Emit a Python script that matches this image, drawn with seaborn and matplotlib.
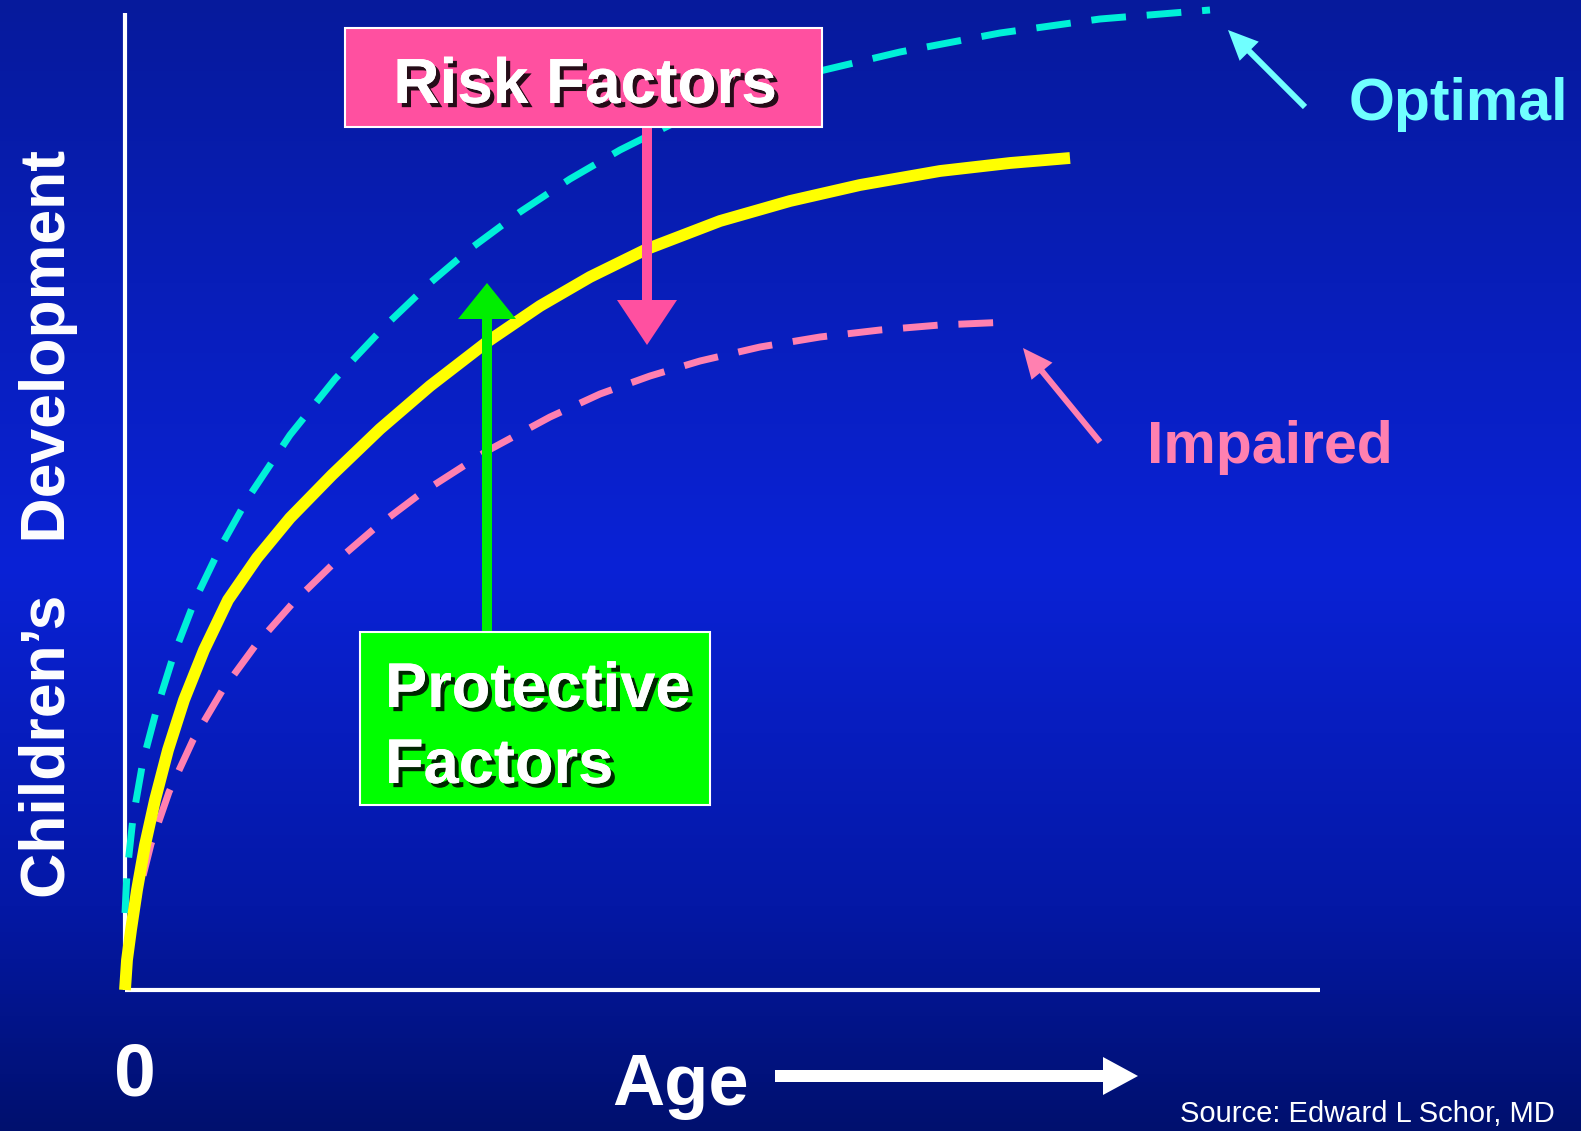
import numpy as np
import pandas as pd
import matplotlib
matplotlib.use("Agg")
import matplotlib.pyplot as plt
import matplotlib.patheffects as pe
from matplotlib.colors import LinearSegmentedColormap
from matplotlib.patches import Rectangle
import seaborn as sns

# -------------------------------
# Data (age vs. development)
# -------------------------------
typical_age = [0.0, 0.02, 0.06, 0.12, 0.2, 0.3, 0.43, 0.59, 0.79, 1.03, 1.32,
               1.65, 2.07, 2.55, 3.05, 3.62, 4.15, 4.65, 5.22, 5.95, 6.65,
               7.35, 8.15, 8.85, 9.45]
typical_dev = [0.0, 0.3, 0.6, 1.0, 1.45, 1.9, 2.4, 2.9, 3.4, 3.9, 4.32,
               4.72, 5.15, 5.61, 6.04, 6.48, 6.84, 7.13, 7.41, 7.69, 7.89,
               8.05, 8.19, 8.27, 8.32]

optimal_age = [0.0, 0.02, 0.08, 0.18, 0.32, 0.48, 0.7, 0.95, 1.23, 1.65, 2.1,
               2.6, 3.05, 3.45, 3.95, 4.45, 4.95, 5.45, 5.95, 6.45, 6.95, 7.75,
               8.75, 9.75, 10.85]
optimal_dev = [0.77, 1.17, 1.72, 2.29, 2.82, 3.33, 3.9, 4.42, 4.92, 5.55, 6.11,
               6.64, 7.07, 7.41, 7.78, 8.11, 8.4, 8.65, 8.86, 9.04, 9.19, 9.38,
               9.57, 9.71, 9.8]

impaired_age = [0.0, 0.03, 0.12, 0.26, 0.44, 0.68, 0.97, 1.3, 1.67, 2.07, 2.5,
                2.95, 3.62, 4.25, 4.75, 5.25, 5.75, 6.35, 6.95, 7.55, 8.15, 8.85]
impaired_dev = [0.05, 0.33, 0.9, 1.46, 1.98, 2.5, 2.99, 3.44, 3.86, 4.25, 4.62,
                4.96, 5.39, 5.73, 5.96, 6.14, 6.29, 6.43, 6.53, 6.6, 6.65, 6.68]

curve_colors = {"Typical": "#ffff00", "Optimal": "#00f0d8", "Impaired": "#ff80b0"}

df = pd.concat([
    pd.DataFrame({"Age": typical_age, "Development": typical_dev, "Curve": "Typical"}),
    pd.DataFrame({"Age": optimal_age, "Development": optimal_dev, "Curve": "Optimal"}),
    pd.DataFrame({"Age": impaired_age, "Development": impaired_dev, "Curve": "Impaired"}),
])

# -------------------------------
# Figure + gradient background
# -------------------------------
fig = plt.figure(figsize=(15.81, 11.31), dpi=100)
ax = fig.add_axes([0, 0, 1, 1])
xmin, xmax, ymin, ymax = -1.25, 14.56, -1.41, 9.90
ax.set_xlim(xmin, xmax)
ax.set_ylim(ymin, ymax)
ax.axis("off")

bg = LinearSegmentedColormap.from_list(
    "bg", [(0.0, "#00106e"), (0.2, "#0418a6"), (0.5, "#0a22d6"), (1.0, "#061a9c")])
grad = np.linspace(0, 1, 256).reshape(-1, 1)
ax.imshow(grad, extent=[xmin, xmax, ymin, ymax], origin="lower", aspect="auto",
          cmap=bg, zorder=0)

# axes lines
ax.plot([0, 0], [0, 9.77], color="white", lw=3, zorder=1, solid_capstyle="butt")
ax.plot([0, 11.95], [0, 0], color="white", lw=3, zorder=1, solid_capstyle="butt")

# -------------------------------
# Curves
# -------------------------------
for name in ["Optimal", "Impaired", "Typical"]:
    sub = df[df["Curve"] == name]
    sns.lineplot(data=sub, x="Age", y="Development", ax=ax, color=curve_colors[name],
                 lw=8.5 if name == "Typical" else 5, zorder=3, sort=False,
                 legend=False)
    line = ax.lines[-1]
    if name != "Typical":
        line.set_linestyle((0, (5, 3)))
    line.set_solid_capstyle("butt")
    line.set_dash_capstyle("butt")
    line.set_solid_joinstyle("round")
    line.set_dash_joinstyle("round")

ax.set_xlabel("")
ax.set_ylabel("")

# -------------------------------
# Boxes + arrows
# -------------------------------
shadow = [pe.withSimplePatchShadow(offset=(3, -3), shadow_rgbFace="black", alpha=0.85),
          pe.Normal()]
font = "Liberation Sans"

ax.add_patch(Rectangle((2.20, 8.63), 4.77, 0.99, facecolor="#ff50a0",
                       edgecolor="white", lw=1.5, zorder=5))
ax.text(4.60, 8.87, "Risk Factors", ha="center", va="baseline", fontsize=46,
        fontweight="bold", color="white", family=font,
        path_effects=shadow, zorder=6)
ax.arrow(5.22, 8.63, 0, -2.18, width=0.1, head_width=0.6, head_length=0.45,
         length_includes_head=True, color="#ff50a0", lw=0, zorder=4)

ax.add_patch(Rectangle((2.35, 1.85), 3.50, 1.73, facecolor="#00ff00",
                       edgecolor="white", lw=1.5, zorder=5))
ax.text(2.60, 2.83, "Protective", ha="left", va="baseline", fontsize=45.5,
        fontweight="bold", color="white", family=font,
        path_effects=shadow, zorder=6)
ax.text(2.60, 2.07, "Factors", ha="left", va="baseline", fontsize=45.5,
        fontweight="bold", color="white", family=font,
        path_effects=shadow, zorder=6)
ax.arrow(3.62, 3.58, 0, 3.49, width=0.1, head_width=0.58, head_length=0.36,
         length_includes_head=True, color="#00ee00", lw=0, zorder=4)

# curve labels
ax.arrow(11.80, 8.83, -0.77, 0.77, width=0.06, head_width=0.27, head_length=0.3,
         length_includes_head=True, color="#70ffff", lw=0, zorder=4)
ax.text(12.24, 8.70, "Optimal", ha="left", va="baseline", fontsize=42.5,
        fontweight="bold", color="#70ffff", family=font, zorder=6)

ax.arrow(9.75, 5.48, -0.77, 0.94, width=0.06, head_width=0.27, head_length=0.3,
         length_includes_head=True, color="#ff80b0", lw=0, zorder=4)
ax.text(10.22, 5.27, "Impaired", ha="left", va="baseline", fontsize=42.5,
        fontweight="bold", color="#ff80b0", family=font, zorder=6)

# axis titles
ax.text(-0.76, 4.66, "Children\u2019s   Development", rotation=90, ha="center",
        va="center", fontsize=45, fontweight="bold", color="white",
        family=font, zorder=6)
ax.text(0.10, -1.05, "0", ha="center", va="baseline", fontsize=54,
        fontweight="bold", color="white", family=font, zorder=6)
ax.text(4.87, -1.15, "Age", ha="left", va="baseline", fontsize=52,
        fontweight="bold", color="white", family=font, zorder=6)
ax.arrow(6.50, -0.86, 3.63, 0, width=0.12, head_width=0.38, head_length=0.35,
         length_includes_head=True, color="white", lw=0, zorder=4)

ax.text(10.55, -1.32, "Source: Edward L Schor, MD", ha="left", va="baseline",
        fontsize=21, color="white", family=font, zorder=6)

fig.savefig("out.png", dpi=100)
